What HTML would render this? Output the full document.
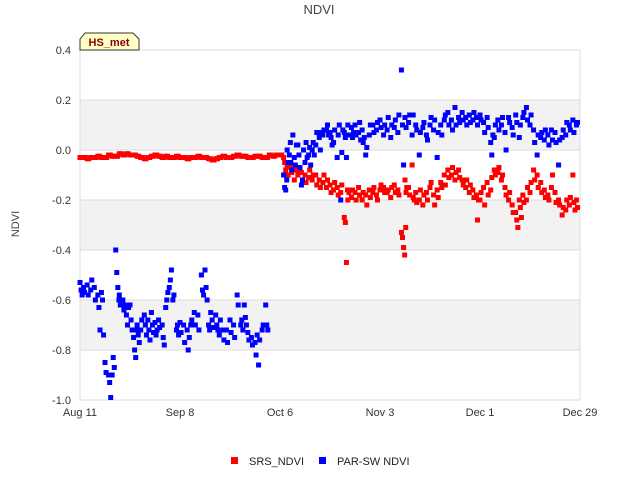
<!DOCTYPE html>
<html><head><meta charset="utf-8"><style>
html,body{margin:0;padding:0;background:#fff;}
svg{display:block;font-family:"Liberation Sans","DejaVu Sans",sans-serif;}
</style></head><body>
<svg id="chart" width="640" height="480" viewBox="0 0 640 480">
<text x="319" y="14" text-anchor="middle" font-size="13" fill="#444">NDVI</text>
<g id="bands"></g>
<g id="grid"></g>
<g id="yticks"></g>
<g id="xticks"></g>
<text x="19" y="224" text-anchor="middle" font-size="11" fill="#444" transform="rotate(-90 19 224)">NDVI</text>
<g id="marks"></g>
<g>
<path d="M80,50 L80,39 L85,33 L133,33 L139,39 L139,50 Z" fill="#ffffc8" stroke="#333" stroke-width="1"/>
<text x="109" y="46" text-anchor="middle" font-size="11" font-weight="bold" fill="#8b0000">HS_met</text>
</g>
<g>
<g><rect x="231" y="457" width="7" height="7" fill="#ff0000"/><text x="249" y="465" font-size="11" fill="#222">SRS_NDVI</text></g>
<g><rect x="319" y="457" width="7" height="7" fill="#0000ff"/><text x="337" y="465" font-size="11" fill="#222">PAR-SW NDVI</text></g>
</g>
</svg>
<script>
const yTicks=[0.4,0.2,0.0,-0.2,-0.4,-0.6,-0.8,-1.0];
const yTickLabels=["0.4","0.2","0.0","-0.2","-0.4","-0.6","-0.8","-1.0"];
const xTickDays=[0,28,56,84,112,140];
const xTickLabels=["Aug 11","Sep 8","Oct 6","Nov 3","Dec 1","Dec 29"];
const srsBaseDays=[0,1,2,3,4,5,6,7,8,9,10,11,12,13,14,15,16,17,18,19,20,21,22,23,24,25,26,27,28,29,30,31,32,33,34,35,36,37,38,39,40,41,42,43,44,45,46,47,48,49,50,51,52,53,54,55,56];
const srsBaseVals=[-0.03,-0.03,-0.035,-0.03,-0.03,-0.025,-0.03,-0.03,-0.02,-0.025,-0.025,-0.015,-0.02,-0.015,-0.02,-0.02,-0.025,-0.03,-0.035,-0.03,-0.025,-0.02,-0.025,-0.03,-0.025,-0.03,-0.03,-0.025,-0.03,-0.03,-0.035,-0.03,-0.03,-0.025,-0.03,-0.03,-0.035,-0.04,-0.035,-0.03,-0.025,-0.03,-0.03,-0.025,-0.02,-0.025,-0.025,-0.03,-0.03,-0.025,-0.025,-0.03,-0.03,-0.02,-0.025,-0.02,-0.02];
const srsDays=[57,58,59,60,61,62,63,64,65,66,67,68,69,70,71,72,73,74,75,76,77,78,79,80,81,82,83,84,85,86,87,88,89,90,91,92,93,94,95,96,97,98,99,100,101,102,103,104,105,106,107,108,109,110,111,112,113,114,115,116,117,118,119,120,121,122,123,124,125,126,127,128,129,130,131,132,133,134,135,136,137,138,139];
const srsVals=[[-0.03,-0.05,-0.08],[-0.06,-0.1],[-0.07,-0.09],[-0.12,-0.08],[-0.1,-0.08],[-0.09,-0.12],[-0.1,-0.13],[-0.11,-0.08],[-0.12,-0.1],[-0.1,-0.14],[-0.12,-0.15],[-0.13,-0.1],[-0.15,-0.12],[-0.14,-0.17],[-0.16,-0.13],[-0.15,-0.18],[-0.17,-0.14],[-0.27,-0.29,-0.45,-0.16],[-0.2,-0.17],[-0.19,-0.16],[-0.17,-0.2],[-0.15,-0.18],[-0.2,-0.17],[-0.18,-0.22],[-0.16,-0.19],[-0.17,-0.15],[-0.18,-0.2],[-0.16,-0.14],[-0.15,-0.17],[-0.17,-0.16],[-0.19,-0.15],[-0.14,-0.17],[-0.16,-0.18],[-0.33,-0.35,-0.39,-0.42,-0.31,-0.15],[-0.12,-0.17],[-0.15,-0.18],[-0.06,-0.19,-0.2],[-0.17,-0.21],[-0.2,-0.16],[-0.22,-0.18],[-0.17,-0.2],[-0.15,-0.13],[-0.18,-0.22],[-0.16,-0.19],[-0.13,-0.15],[-0.1,-0.14],[-0.08,-0.11],[-0.1,-0.07],[-0.12,-0.09],[-0.08,-0.11],[-0.12,-0.14],[-0.15,-0.12],[-0.17,-0.14],[-0.16,-0.19],[-0.18,-0.28,-0.2],[-0.2,-0.17],[-0.15,-0.22],[-0.13,-0.18],[-0.16,-0.11],[-0.08,-0.1],[-0.09,-0.07],[-0.12,-0.1],[-0.15,-0.18],[-0.2,-0.17],[-0.22,-0.25],[-0.25,-0.28,-0.31],[-0.2,-0.23,-0.27],[-0.18,-0.21],[-0.2,-0.15],[-0.17,-0.13],[-0.08,-0.12],[-0.1,-0.15],[-0.13,-0.17],[-0.16,-0.19],[-0.18,-0.2],[-0.15,-0.1],[-0.17,-0.21],[-0.2,-0.22],[-0.26,-0.23],[-0.24,-0.2],[-0.22,-0.19],[-0.1,-0.21,-0.24],[-0.2,-0.23]];
const parDays1=[0,1,2,3,4,5,6,7,8,9,10,11,12,13,14,15,16,17,18,19,20,21,22,23,24,25,26,27,28,29,30,31,32,33,34,35,36,37,38,39,40,41,42,43,44,45,46,47,48,49,50,51,52];
const parVals1=[[-0.53,-0.56,-0.58],[-0.55,-0.57],[-0.54,-0.58],[-0.56,-0.52],[-0.55,-0.6],[-0.58,-0.63,-0.72],[-0.57,-0.6,-0.74],[-0.85,-0.89],[-0.9,-0.93,-0.99],[-0.9,-0.83,-0.87],[-0.4,-0.49,-0.55,-0.6],[-0.58,-0.62],[-0.6,-0.64,-0.62],[-0.66,-0.7,-0.63],[-0.62,-0.68,-0.72],[-0.75,-0.8,-0.83,-0.72],[-0.7,-0.74,-0.77],[-0.72,-0.68],[-0.66,-0.7,-0.74],[-0.68,-0.72,-0.76],[-0.65,-0.7,-0.73],[-0.69,-0.74,-0.72],[-0.68,-0.71],[-0.7,-0.75,-0.78],[-0.63,-0.6,-0.57],[-0.55,-0.52,-0.48],[-0.6,-0.58],[-0.72,-0.7,-0.74],[-0.69,-0.73],[-0.7,-0.77],[-0.72,-0.8,-0.75],[-0.7,-0.68],[-0.65,-0.7],[-0.66,-0.72],[-0.5,-0.56,-0.58],[-0.48,-0.55,-0.6],[-0.7,-0.72,-0.65],[-0.68,-0.71],[-0.66,-0.7,-0.72],[-0.74,-0.68],[-0.72,-0.76],[-0.72,-0.77],[-0.68,-0.73],[-0.7,-0.75],[-0.58,-0.62],[-0.7,-0.68,-0.72],[-0.62,-0.67,-0.7],[-0.73,-0.76],[-0.75,-0.78],[-0.77,-0.82,-0.74],[-0.86,-0.76],[-0.72,-0.7],[-0.62,-0.7,-0.72]];
const parDays2=[57,58,59,60,61,62,63,64,65,66,67,68,69,70,71,72,73,74,75,76,77,78,79,80,81,82,83,84,85,86,87,88,89,90,91,92,93,94,95,96,97,98,99,100,101,102,103,104,105,106,107,108,109,110,111,112,113,114,115,116,117,118,119,120,121,122,123,124,125,126,127,128,129,130,131,132,133,134,135,136,137,138,139];
const parVals2=[[-0.1,-0.15,-0.16,-0.12],[0.0,-0.05,-0.02,0.03],[-0.05,-0.08,0.06],[-0.03,-0.06,0.02],[0.02,-0.02,-0.07],[-0.14,-0.12,0.0],[-0.05,0.03,-0.03],[-0.02,0.01,-0.06],[0.0,0.03,-0.02],[0.02,0.07],[0.05,0.0,0.07],[0.06,0.08],[0.08,0.1,0.06],[0.07,0.05,0.02],[0.03,0.08],[-0.03,0.06,0.1],[-0.2,-0.01,0.08],[0.07,0.05,-0.03],[0.1,0.06],[0.09,0.05,0.07],[0.1,0.06],[0.07,0.11,0.04],[0.08,0.03,0.05],[-0.02,0.01],[0.06,0.1],[0.1,0.07],[0.08,0.11],[0.12,0.09],[0.06,0.1],[0.08,0.13],[0.05,0.1],[0.09,0.12],[0.07,0.14],[0.32,0.1,-0.06],[0.13,0.09],[0.11,0.14],[0.06,0.14],[0.1,0.08],[-0.02,0.07],[0.09,0.11],[0.06,0.04],[0.1,0.13],[0.08,0.12],[-0.03,0.07],[0.1,0.06],[0.12,0.14],[0.15,0.1],[0.12,0.08],[0.17,0.1],[0.13,0.11],[0.15,0.12],[0.13,0.1],[0.14,0.11],[0.12,0.15],[0.13,0.1],[0.14,0.12],[0.11,0.07],[0.13,0.09],[0.03,-0.02,0.06],[0.05,0.1],[0.12,0.08],[0.1,0.13],[0.07,0.0],[0.13,0.11],[0.09,0.06],[0.14,0.11],[0.05,0.1],[0.13,0.15],[0.17,0.12],[0.1,0.14],[0.08,0.03],[-0.02,0.06],[0.05,0.07],[0.04,0.08],[0.06,0.02],[0.08,0.04],[0.07,0.03],[-0.06,0.04],[0.05,0.08],[0.06,0.11],[0.1,0.08],[0.12,0.07],[0.1,0.11]];

const NS="http://www.w3.org/2000/svg";
const L=80,R=580,T=50,B=400,D0=0,D1=140,V0=-1.0,V1=0.4;
function xs(d){return L+(d-D0)/(D1-D0)*(R-L);}
function ys(v){return B-(v-V0)/(V1-V0)*(B-T);}
function mk(tag,attrs,parent){const e=document.createElementNS(NS,tag);for(const k in attrs)e.setAttribute(k,attrs[k]);parent.appendChild(e);return e;}
const bands=document.getElementById('bands');
let r0=mk('rect',{x:L,y:T,width:R-L,height:B-T,fill:'#fff'},bands);


for(let i=0;i<yTicks.length-1;i++){
  if(i%2===1){const r=mk('rect',{x:L,y:ys(yTicks[i]),width:R-L,height:ys(yTicks[i+1])-ys(yTicks[i]),fill:'#f2f2f2'},bands);
  
  }
}
const grid=document.getElementById('grid');
yTicks.forEach(v=>{const l=mk('line',{x1:L,x2:R,y1:ys(v),y2:ys(v),stroke:'#dcdcdc','stroke-width':1},grid);

});
let fr=mk('rect',{x:L,y:T,width:R-L,height:B-T,fill:'none',stroke:'#dcdcdc'},grid);


const yt=document.getElementById('yticks');
yTicks.forEach((v,i)=>{const t=mk('text',{x:71,y:ys(v)+4,'text-anchor':'end','font-size':11,fill:'#333'},yt);t.textContent=yTickLabels[i];

});
const xt=document.getElementById('xticks');
xTickDays.forEach((d,i)=>{const t=mk('text',{x:xs(d),y:416,'text-anchor':'middle','font-size':11,fill:'#333'},xt);t.textContent=xTickLabels[i];

});
const marks=document.getElementById('marks');
function pt(d,v,c,name){const r=mk('rect',{x:xs(d)-2.5,y:ys(v)-2.5,width:5,height:5,fill:c},marks);

}
srsBaseDays.forEach((d,i)=>{pt(d,srsBaseVals[i],'#ff0000','srs-point');pt(d+0.5,srsBaseVals[i],'#ff0000','srs-point');});
srsDays.forEach((d,i)=>srsVals[i].forEach((v,j)=>pt(d+j*0.3,v,'#ff0000','srs-point')));
parDays1.forEach((d,i)=>parVals1[i].forEach((v,j)=>pt(d+j*0.3,v,'#0000ff','parsw-point')));
parDays2.forEach((d,i)=>parVals2[i].forEach((v,j)=>pt(d+j*0.3,v,'#0000ff','parsw-point')));
</script>
</body></html>
